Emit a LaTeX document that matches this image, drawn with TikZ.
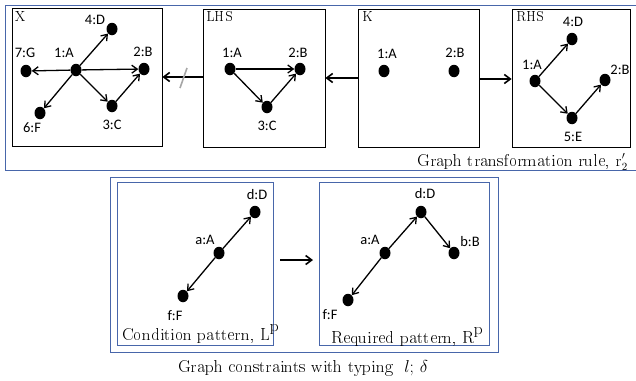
\documentclass[tikz,border=0pt]{standalone}
\usepackage[T1]{fontenc}
\usepackage{fontspec}
\setmainfont{Carlito}
\usetikzlibrary{arrows.meta,shapes.geometric}
\newcommand\sch{\fontencoding{T1}\fontfamily{qcs}\selectfont}
\definecolor{frameblue}{RGB}{72,102,170}
\tikzset{
  dot/.style={ellipse,fill=black,inner sep=0pt,minimum width=11pt,minimum height=12.5pt},
  lbl/.style={font=\fontsize{14.5}{16}\selectfont,inner sep=0pt},
  boxtitle/.style={font=\sch\fontsize{14}{16}\selectfont,inner sep=0pt},
  caption/.style={font=\sch\fontsize{16}{18}\selectfont,inner sep=0pt},
  edge/.style={line width=1.3pt,-{Straight Barb[length=5.5pt,width=8pt,line width=1.3pt]}},
  conn/.style={line width=1.6pt,-{Straight Barb[length=6pt,width=9pt,line width=1.6pt]}},
  ibox/.style={draw=black,line width=0.8pt},
  bbox/.style={draw=frameblue,line width=1pt}
}
\begin{document}
\begin{tikzpicture}[x=1pt,y=-1pt]
\useasboundingbox (0,0) rectangle (636,380);
% top outer frame
\draw[bbox] (5,5) rectangle (640,170);
% inner boxes
\node[ibox,minimum width=150pt,minimum height=138pt,inner sep=0pt] (X) at (87,77) {};
\node[ibox,minimum width=122pt,minimum height=138pt,inner sep=0pt] (LHS) at (264,78) {};
\node[ibox,minimum width=121pt,minimum height=138pt,inner sep=0pt] (K) at (418.5,78) {};
\node[ibox,minimum width=118pt,minimum height=138pt,inner sep=0pt] (RHS) at (571,78) {};
\node[boxtitle,anchor=west] at (15,17) {X};
\node[boxtitle,anchor=west] at (206,17) {LHS};
\node[boxtitle,anchor=west] at (362,17) {K};
\node[boxtitle,anchor=west] at (516,17) {RHS};
% X graph
\node[dot] (xa) at (76,70) {};
\node[dot] (xd) at (112,29) {};
\node[dot] (xb) at (144,69) {};
\node[dot] (xg) at (26,71) {};
\node[dot] (xf) at (40,113) {};
\node[dot] (xc) at (112,106) {};
\node[lbl] at (95,20) {4:D};
\node[lbl] at (25,53) {7:G};
\node[lbl] at (64,53) {1:A};
\node[lbl] at (143,52) {2:B};
\node[lbl] at (32,128) {6:F};
\node[lbl] at (112,125) {3:C};
\draw[edge] (xa) -- (xd);
\draw[edge] (xa) -- (xb);
\draw[edge] (xa) -- (xg);
\draw[edge] (xa) -- (xf);
\draw[edge] (xa) -- (xc);
\draw[edge] (xc) -- (xb);
% LHS graph
\node[dot] (la) at (230,69) {};
\node[dot] (lb) at (300,69) {};
\node[dot] (lc) at (267,107) {};
\node[lbl] at (232,53) {1:A};
\node[lbl] at (298,53) {2:B};
\node[lbl] at (267,126) {3:C};
\draw[edge] (la) -- (lb);
\draw[edge] (la) -- (lc);
\draw[edge] (lc) -- (lb);
% K graph
\node[dot] (ka) at (384,71) {};
\node[dot] (kb) at (454,71) {};
\node[lbl] at (387,54) {1:A};
\node[lbl] at (455,53) {2:B};
% RHS graph
\node[dot] (ra) at (535,81) {};
\node[dot] (rd) at (572,39) {};
\node[dot] (rb) at (605,80) {};
\node[dot] (re) at (572,118) {};
\node[lbl] at (573,22) {4:D};
\node[lbl] at (532,65) {1:A};
\node[lbl] at (620,70) {2:B};
\node[lbl] at (573,137) {5:E};
\draw[edge] (ra) -- (rd);
\draw[edge] (ra) -- (re);
\draw[edge] (re) -- (rb);
% connectors
\draw[conn] (LHS.west |- 0,77) -- (X.east |- 0,77);
\draw[conn] (K.west |- 0,78) -- (LHS.east |- 0,78);
\draw[conn] (K.east |- 0,79) -- (RHS.west |- 0,79);
\draw[gray!70,line width=1.6pt] (180,88) -- (187,68);
\node[caption,anchor=east] at (628,162) {Graph transformation rule, r$'_{2}$};
% bottom
\draw[bbox] (110,177) rectangle (498,352);
\node[bbox,minimum width=156pt,minimum height=163pt,inner sep=0pt] (CP) at (195,263.5) {};
\node[bbox,minimum width=170pt,minimum height=163pt,inner sep=0pt] (RP) at (404,263.5) {};
% condition graph
\node[dot] (cd) at (255,212) {};
\node[dot] (ca) at (219,253) {};
\node[dot] (cf) at (183,296) {};
\node[lbl] at (257,195) {d:D};
\node[lbl] at (205,240) {a:A};
\node[lbl] at (175,316) {f:F};
\draw[edge] (ca) -- (cd);
\draw[edge] (ca) -- (cf);
\node[caption,anchor=west] at (122,334) {Condition pattern, L\raisebox{1.1ex}{p}};
% required graph
\node[dot] (qd) at (421,212) {};
\node[dot] (qa) at (385,253) {};
\node[dot] (qb) at (454,253) {};
\node[dot] (qf) at (348,300) {};
\node[lbl] at (425,194) {d:D};
\node[lbl] at (370,240) {a:A};
\node[lbl] at (470,242) {b:B};
\node[lbl] at (330,315) {f:F};
\draw[edge] (qa) -- (qd);
\draw[edge] (qa) -- (qf);
\draw[edge] (qd) -- (qb);
\node[caption,anchor=west] at (331,337) {Required pattern, R\raisebox{1.1ex}{p}};
\draw[conn] (280,260) -- (313,260);
\node[caption] at (303,368) {Graph constraints with typing \ $l;\,\delta$};
\end{tikzpicture}
\end{document}
